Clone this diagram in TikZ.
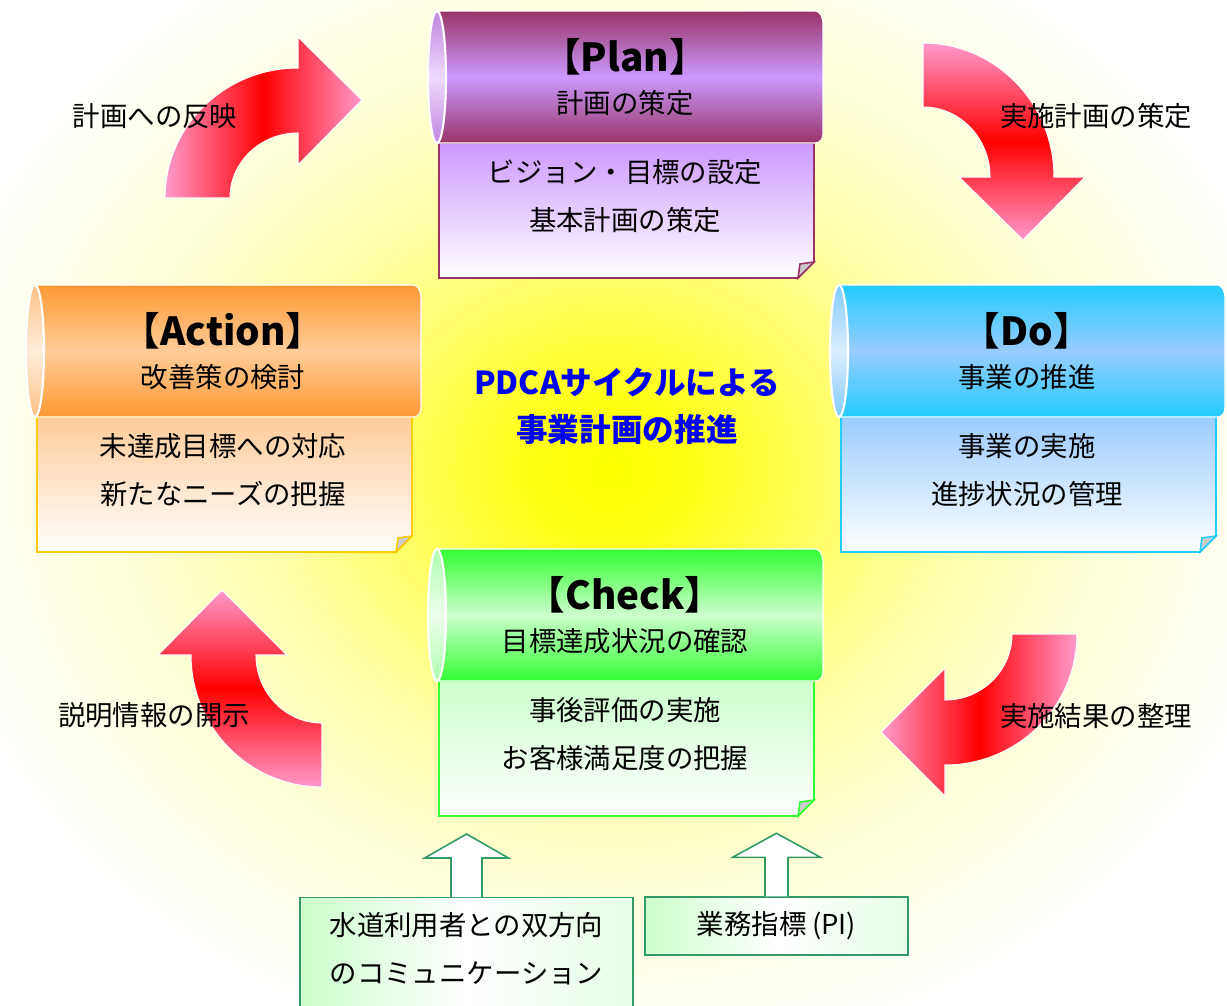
\documentclass[tikz,border=0pt]{standalone}
\usepackage{fontspec}
\setmainfont{Noto Sans CJK JP}
\usepackage{xcolor}
\usepackage{tikz}
\usetikzlibrary{calc}

\definecolor{plandark}{HTML}{993366}
\definecolor{planlight}{HTML}{CC99FF}
\definecolor{dodark}{HTML}{22CCFF}
\definecolor{dolight}{HTML}{99CCFF}
\definecolor{checkdark}{HTML}{33FF33}
\definecolor{checklight}{HTML}{CCFFCC}
\definecolor{actdark}{HTML}{FF9933}
\definecolor{actlight}{HTML}{FFCC99}
\definecolor{actrim}{HTML}{FFCC00}
\definecolor{arrowpink}{HTML}{FF99CC}
\definecolor{inputgreen}{HTML}{339966}
\definecolor{themeblue}{HTML}{0000F0}

\pgfdeclareradialshading{bgglow}{\pgfpoint{0bp}{0bp}}{color(0bp)=(yellow);color(3bp)=(yellow!92!white);color(7bp)=(yellow!65!white);color(12bp)=(yellow!35!white);color(18bp)=(yellow!14!white);color(25bp)=(white)}

\tikzset{
  curvearrow/.style={draw=white, line width=0.6pt},
  hshade/.style={left color=arrowpink, right color=arrowpink, middle color=red},
  vshade/.style={top color=arrowpink, bottom color=arrowpink, middle color=red},
  rolltitle/.style={font=\fontsize{22}{24}\selectfont\bfseries},
  rolltext/.style={align=center, inner sep=0pt},
  themetext/.style={align=center, text=themeblue, font=\fontsize{18}{26.7}\selectfont\bfseries},
  inputbox/.style={draw=inputgreen, line width=0.8pt, left color=green!20!white, right color=green!10!white, middle color=white, align=center},
  inputarrow/.style={draw=inputgreen, line width=0.9pt, fill=white}
}

% roll with sheet: #1 left end x, #2 top, #3 dark, #4 light, #5 rim, #6 name, #7 title, #8 sub, #9 sheet text
\newcommand{\pdcaroll}[9]{%
  \shade[top color=#4, bottom color=white, draw=#5, line width=0.9pt]
    ({#1+2},{#2+132}) -- ({#1+377},{#2+132}) -- ({#1+377},{#2+251}) -- ({#1+361},{#2+267}) -- ({#1+2},{#2+267}) -- cycle;
  \filldraw[fill=gray!40, draw=#5, line width=0.9pt] ({#1+361},{#2+267}) -- ({#1+377},{#2+251}) -- ({#1+363},{#2+253}) -- cycle;
  \shade[top color=#3, bottom color=#3, middle color=#4, draw=white, line width=0.6pt]
    (#1,#2) -- ({#1+378},#2) .. controls ({#1+383},#2) and ({#1+386},{#2+6}) .. ({#1+386},{#2+14})
    -- ({#1+386},{#2+122}) .. controls ({#1+386},{#2+128}) and ({#1+383},{#2+132}) .. ({#1+378},{#2+132})
    -- (#1,{#2+132}) -- cycle;
  \shade[top color=#4!80!#3, bottom color=#4!80!#3, middle color=#4!35!white, draw=white, line width=1.2pt]
    (#1,{#2+66}) ellipse [x radius=9, y radius=66];
  \node[rolltitle] (#6title) at ({#1+188},{#2+46}) {#7};
  \node (#6sub) at ({#1+188},{#2+92}) {#8};
  \node[rolltext] (#6body) at ({#1+188},{#2+185}) {#9};
}

% hollow block arrow up from a box
\newcommand{\inputarrow}[3]{%
  \draw[inputarrow] ($(#1.north)+(-#2,0)$) -- ($(#1.north)+(-#2,-39)$) -- ($(#1.north)+(-#3,-39)$)
    -- ($(#1.north)+(0,-63)$) -- ($(#1.north)+(#3,-39)$) -- ($(#1.north)+(#2,-39)$) -- ($(#1.north)+(#2,0)$);
}

\begin{document}
\begin{tikzpicture}[x=0.02cm, y=-0.02cm, font=\fontsize{15.6}{27.3}\selectfont]
\useasboundingbox (0,0) rectangle (1227,1005);
\clip (0,0) rectangle (1227,1005);
\shade[shading=bgglow] (-90,-130) rectangle (1310,1070);

% the four rolls
\pdcaroll{437}{11}{plandark}{planlight}{plandark}{plan}{【Plan】}{計画の策定}{ビジョン・目標の設定\\基本計画の策定}
\pdcaroll{839}{285}{dodark}{dolight}{dodark}{do}{【Do】}{事業の推進}{事業の実施\\進捗状況の管理}
\pdcaroll{437}{549}{checkdark}{checklight}{checkdark}{check}{【Check】}{目標達成状況の確認}{事後評価の実施\\お客様満足度の把握}
\pdcaroll{35}{285}{actdark}{actlight}{actrim}{act}{【Action】}{改善策の検討}{未達成目標への対応\\新たなニーズの把握}

\node[themetext] (theme) at (627,406) {PDCAサイクルによる\\事業計画の推進};

% curved arrows
\shade[curvearrow, hshade] (165,198) arc[start angle=180, end angle=270, x radius=133, y radius=130]
  -- (298,37) -- (362,100) -- (298,165) -- (298,133) arc[start angle=270, end angle=180, x radius=68, y radius=65] -- cycle;
\shade[curvearrow, vshade] (923,43) arc[start angle=270, end angle=360, x radius=131, y radius=134]
  -- (1085,177) -- (1023,240) -- (959,177) -- (990,177) arc[start angle=0, end angle=-90, x radius=67, y radius=70] -- cycle;
\shade[curvearrow, hshade] (1077,634) arc[start angle=0, end angle=90, x radius=132, y radius=131]
  -- (945,796) -- (881,732) -- (945,668) -- (945,700) arc[start angle=90, end angle=0, x radius=67, y radius=66] -- cycle;
\shade[curvearrow, vshade] (322,787) arc[start angle=90, end angle=180, x radius=131, y radius=132]
  -- (158,655) -- (222,590) -- (287,655) -- (256,655) arc[start angle=180, end angle=90, x radius=66, y radius=68] -- cycle;

\node (reflect) at (155,116) {計画への反映};
\node (planning) at (1096,116) {実施計画の策定};
\node (sorting) at (1096,716) {実施結果の整理};
\node (disclose) at (154,715) {説明情報の開示};

% inputs to Check
\node[inputbox, anchor=north, minimum width=6.66cm, minimum height=2.6cm] (voice) at (466.5,897) {};
\node[rolltext] (voicetext) at ($(voice.north)+(0,51.5)$) {水道利用者との双方向\\のコミュニケーション};
\node[inputbox, minimum width=5.26cm, minimum height=1.16cm] (pi) at (776.5,926) {業務指標\hspace{0.2em}(PI)};
\inputarrow{voice}{15.5}{42}
\inputarrow{pi}{11.5}{44}
\end{tikzpicture}
\end{document}
